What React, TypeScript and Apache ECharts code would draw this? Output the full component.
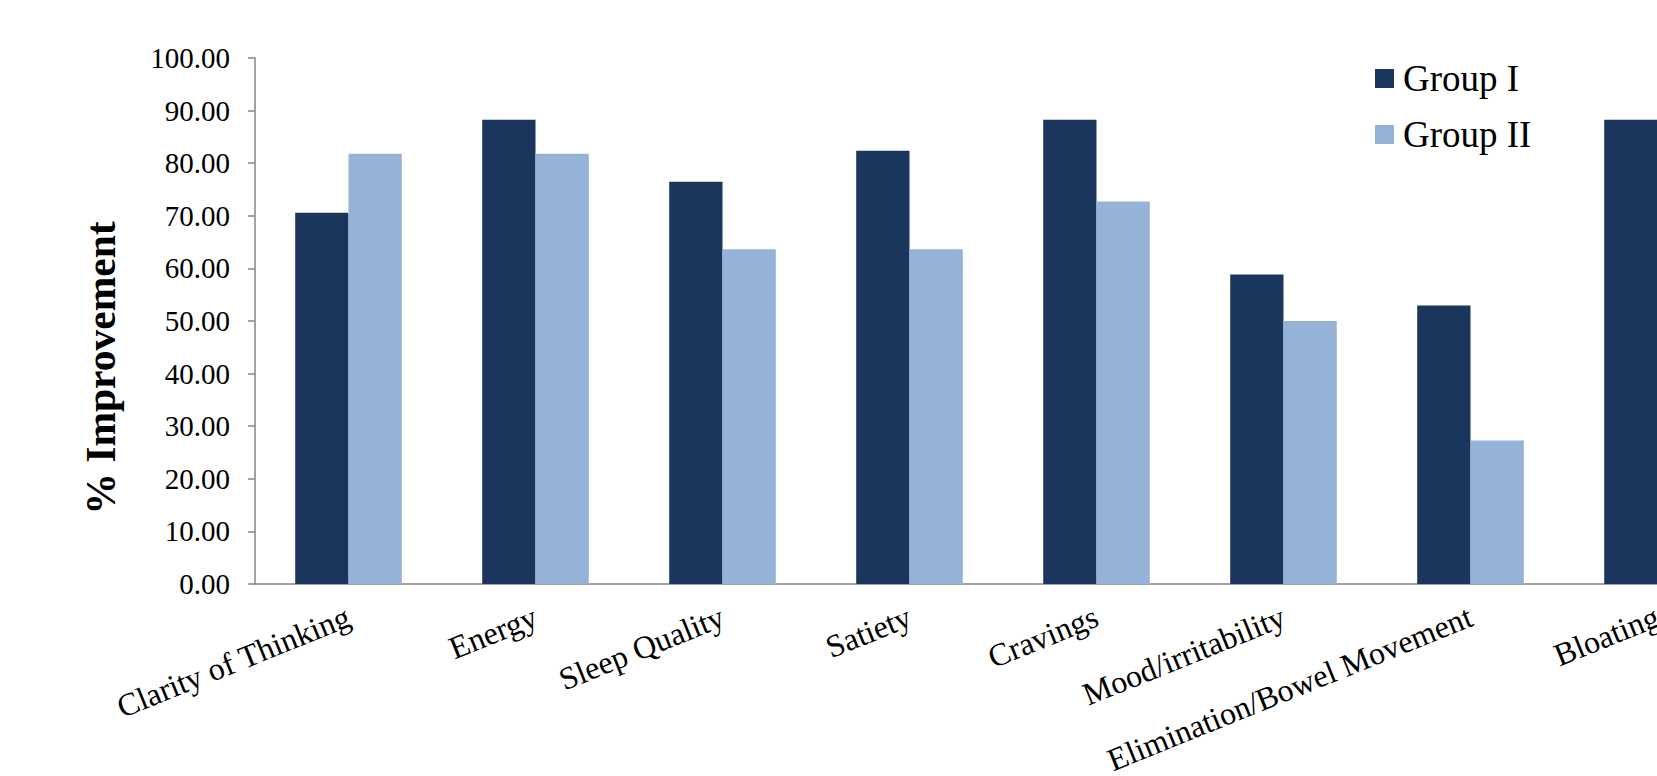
import React, { useEffect, useRef } from "react";
import * as echarts from "echarts";

const categories = [
  "Clarity of Thinking",
  "Energy",
  "Sleep Quality",
  "Satiety",
  "Cravings",
  "Mood/irritability",
  "Elimination/Bowel Movement",
  "Bloating",
];
const groupI = [70.59, 88.24, 76.47, 82.35, 88.24, 58.82, 52.94, 88.24];
const groupII = [81.82, 81.82, 63.64, 63.64, 72.73, 50.0, 27.27, 54.55];
const seriesNames = ["Group I", "Group II"];
const yTitle = "% Improvement";

const FONT = "'Liberation Serif', 'Times New Roman', serif";

export default function App() {
  const ref = useRef<HTMLDivElement>(null);
  useEffect(() => {
    if (!ref.current) return;
    const chart = echarts.init(ref.current, null, { renderer: "svg" });
    chart.setOption({
      animation: false,
      backgroundColor: "#ffffff",
      grid: {
        left: 255,
        top: 58,
        width: 1496,
        height: 526,
        outerBoundsMode: "none",
        containLabel: false,
      },
      legend: {
        orient: "vertical",
        left: 1370,
        top: 55,
        icon: "rect",
        itemWidth: 19,
        itemHeight: 19,
        itemGap: 19,
        textStyle: {
          fontFamily: FONT,
          fontSize: 37,
          color: "#000",
          lineHeight: 37,
          padding: [0, 0, 0, 4],
        },
        data: seriesNames,
      },
      graphic: [
        {
          type: "text",
          x: 101,
          y: 368,
          rotation: Math.PI / 2,
          style: {
            text: yTitle,
            font: `bold 41.5px ${FONT}`,
            fill: "#000",
            align: "center",
            verticalAlign: "middle",
          },
        },
      ],
      xAxis: {
        type: "category",
        data: categories,
        axisLine: { lineStyle: { color: "#868686", width: 1.5 } },
        axisTick: { length: 10, lineStyle: { color: "#868686", width: 1.5 } },
        axisLabel: {
          interval: 0,
          rotate: 22,
          margin: 31,
          fontFamily: FONT,
          fontSize: 32,
          color: "#000",
        },
      },
      yAxis: {
        type: "value",
        min: 0,
        max: 100,
        interval: 10,
        axisLine: { show: true, lineStyle: { color: "#868686", width: 1.5 } },
        axisTick: { show: true, length: 7, lineStyle: { color: "#868686", width: 1.5 } },
        splitLine: { show: false },
        axisLabel: {
          margin: 25,
          fontFamily: FONT,
          fontSize: 29,
          color: "#000",
          formatter: (v: number) => v.toFixed(2),
        },
      },
      series: [
        {
          name: seriesNames[0],
          type: "bar",
          data: groupI,
          barGap: "0%",
          barCategoryGap: "43%",
          itemStyle: { color: "#1A365C" },
        },
        {
          name: seriesNames[1],
          type: "bar",
          data: groupII,
          barGap: "0%",
          barCategoryGap: "43%",
          itemStyle: { color: "#95B3D7" },
        },
      ],
    });
    return () => chart.dispose();
  }, []);
  return (
    <div
      ref={ref}
      style={{ position: "fixed", left: 0, top: 0, width: 1657, height: 776 }}
    />
  );
}
